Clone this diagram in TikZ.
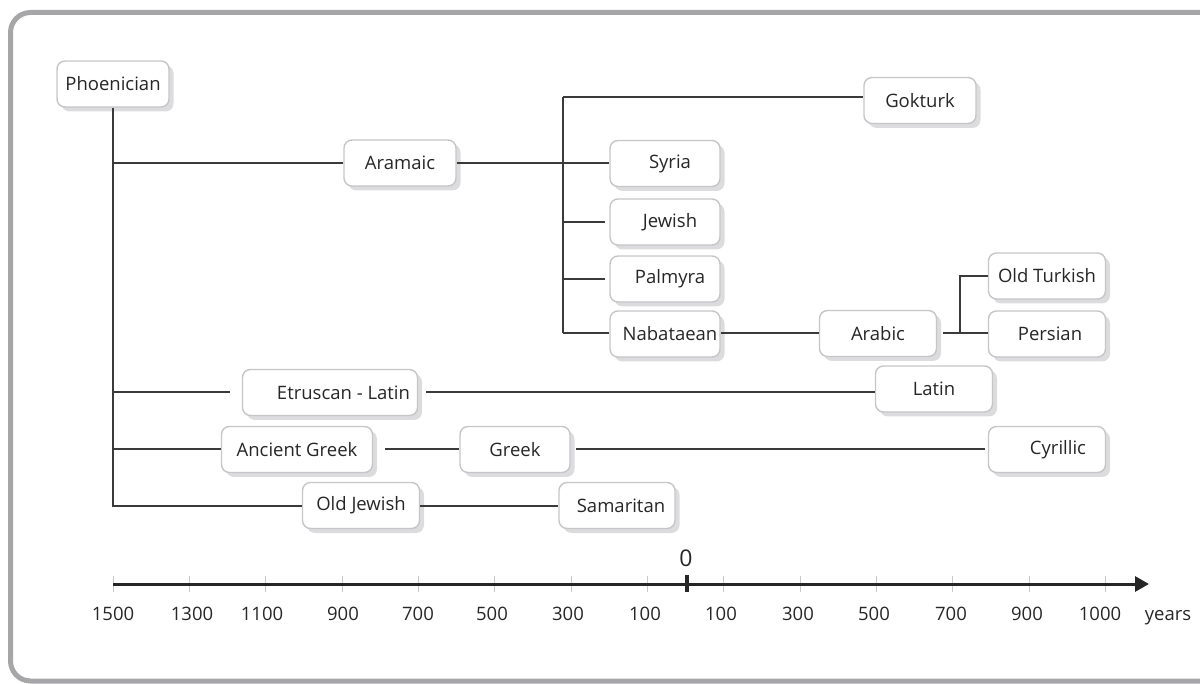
\documentclass[tikz,border=0pt]{standalone}
\usepackage{fontspec}
\setmainfont{Open Sans}
\usetikzlibrary{shadows,arrows.meta}
\definecolor{framegray}{HTML}{A6A6A8}
\definecolor{boxedge}{HTML}{C6C6C8}
\definecolor{shadowgray}{HTML}{DCDCDE}
\definecolor{txt}{HTML}{262626}
\definecolor{linecol}{HTML}{3A3A3A}
\definecolor{tickgray}{HTML}{C8C8C8}
\begin{document}
\begin{tikzpicture}[x=1pt,y=-1pt,
  box/.style={draw=boxedge, line width=1.4pt, rounded corners=8pt, fill=white, text=txt,
    minimum height=46pt, inner sep=0pt, font=\fontsize{18.5}{21}\selectfont,
    drop shadow={shadow xshift=4.5pt, shadow yshift=-4.5pt, fill=shadowgray, opacity=1}},
  conn/.style={draw=linecol, line width=1.5pt},
  axlabel/.style={text=txt, font=\fontsize{18.5}{21}\selectfont, inner sep=0pt, anchor=base}]
\useasboundingbox (0,0) rectangle (1200,684);
\draw[framegray, line width=5pt, rounded corners=20pt] (10.5,12.5) rectangle (1222,681);

% nodes
\node[box, minimum width=112pt] (phoen) at (113,84) {Phoenician};
\node[box, minimum width=112pt] (aram) at (400,163) {Aramaic};
\node[box, minimum width=112pt] (gok) at (920,100.5) {Gokturk};
\node[box, minimum width=110pt] (syria) at (665,163.5) {\hspace*{10pt}Syria};
\node[box, minimum width=110pt] (jewish) at (665,222) {\hspace*{10pt}Jewish};
\node[box, minimum width=110pt] (palm) at (665,279) {\hspace*{10pt}Palmyra};
\node[box, minimum width=110pt] (nab) at (665,334) {\hspace*{10pt}Nabataean};
\node[box, minimum width=117pt] (arabic) at (878,333.5) {Arabic};
\node[box, minimum width=117pt] (oldturk) at (1047,276) {Old Turkish};
\node[box, minimum width=117pt] (persian) at (1047,334) {\hspace*{6pt}Persian};
\node[box, minimum width=175pt] (etr) at (330,392.5) {\hspace*{27pt}Etruscan - Latin};
\node[box, minimum width=117pt] (latin) at (934,389) {Latin};
\node[box, minimum width=151pt] (agreek) at (297,449.5) {Ancient Greek};
\node[box, minimum width=110pt] (greek) at (515,449.5) {Greek};
\node[box, minimum width=117pt] (cyr) at (1047,449.5) {\hspace*{22pt}Cyrillic};
\node[box, minimum width=117pt] (ojew) at (361,505.5) {Old Jewish};
\node[box, minimum width=116pt] (samar) at (617,505.5) {\hspace*{8pt}Samaritan};

% helper coordinates
\coordinate (tend) at (113,507);
\coordinate (t1) at (113,163);
\coordinate (t2) at (113,392);
\coordinate (t3) at (113,449);
\coordinate (t4) at (113,506);
\coordinate (a1) at (563,97);
\coordinate (a2) at (563,333);
\coordinate (aj) at (563,222);
\coordinate (ap) at (563,279);
\coordinate (jend) at (605,222);
\coordinate (pend) at (605,279);
\coordinate (e1) at (230,392);
\coordinate (e2) at (426,392);
\coordinate (g1) at (385,449);
\coordinate (g2) at (576,449);
\coordinate (g3) at (985,449);
\coordinate (ar1) at (943,333);
\coordinate (ar2) at (960,333);
\coordinate (ar3) at (960,276);

% connectors
\draw[conn] (phoen.south) -- (tend);
\draw[conn] (t1) -- (t1 -| aram.west);
\draw[conn] (t1 -| aram.east) -- (t1 -| syria.west);
\draw[conn] (a1) -- (a2);
\draw[conn] (a1) -- (a1 -| gok.west);
\draw[conn] (aj) -- (jend);
\draw[conn] (ap) -- (pend);
\draw[conn] (a2) -- (a2 -| nab.west);
\draw[conn] (a2 -| nab.east) -- (a2 -| arabic.west);
\draw[conn] (ar1) -- (ar2) -- (ar3) -- (ar3 -| oldturk.west);
\draw[conn] (ar2) -- (ar2 -| persian.west);
\draw[conn] (t2) -- (e1);
\draw[conn] (e2) -- (e2 -| latin.west);
\draw[conn] (t3) -- (t3 -| agreek.west);
\draw[conn] (g1) -- (g1 -| greek.west);
\draw[conn] (g2) -- (g3);
\draw[conn] (t4) -- (t4 -| ojew.west);
\draw[conn] (t4 -| ojew.east) -- (t4 -| samar.west);

% axis
\foreach \x in {113,189.5,265.5,342,418,494,571,647,723,800,876,952,1029,1105}
  \draw[tickgray, line width=1pt] (\x,576) -- (\x,592);
\coordinate (ax0) at (113,584);
\coordinate (ax1) at (1149,584);
\draw[line width=3pt, draw=black!85, -{Triangle[length=14pt,width=15pt]}] (ax0) -- (ax1);
\draw[line width=3.5pt, draw=black!85] (687,575) -- (687,592);
\node[text=txt, font=\fontsize{23}{26}\selectfont, inner sep=0pt] (zero) at (686,558) {0};
\foreach \x/\t in {113/1500,192/1300,262/1100,343/900,418/700,492/500,568/300,645/100,721/100,798/300,874/500,951/700,1027/900,1100/1000,1168/years}
  \node[axlabel] at (\x,620.5) {\t};
\end{tikzpicture}
\end{document}
